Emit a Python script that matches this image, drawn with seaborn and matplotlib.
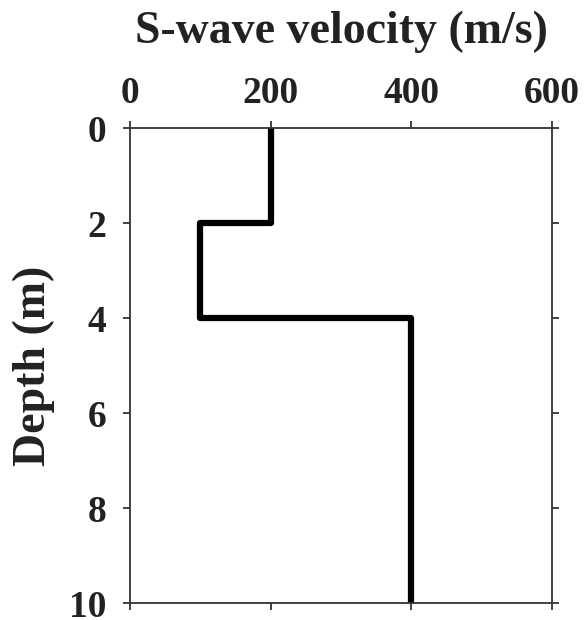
import matplotlib
matplotlib.use("Agg")
import matplotlib.pyplot as plt
import seaborn as sns
import pandas as pd

layer_top = [0, 2, 4]
layer_bottom = [2, 4, 10]
velocity = [200, 100, 400]
x_ticks = [0, 200, 400, 600]
y_ticks = [0, 2, 4, 6, 8, 10]

xs, ys = [], []
for t, b, v in zip(layer_top, layer_bottom, velocity):
    xs += [v, v]
    ys += [t, b]
df = pd.DataFrame({"Velocity": xs, "Depth": ys})

sns.set_theme(style="ticks")
plt.rcParams['font.family'] = ['Liberation Serif', 'DejaVu Serif']
plt.rcParams['font.weight'] = 'bold'

fig = plt.figure(figsize=(5.86, 6.2), dpi=100)
ax = fig.add_axes([0.222, 0.0274, 0.72, 0.766])
sns.lineplot(data=df, x="Velocity", y="Depth", sort=False, estimator=None,
             color="black", linewidth=4.5, ax=ax)
ax.set_xlim(0, 600)
ax.set_ylim(10, 0)
ax.set_xticks(x_ticks)
ax.set_yticks(y_ticks)
ax.xaxis.set_ticks_position('both')
ax.yaxis.set_ticks_position('both')
ax.xaxis.set_label_position('top')
ax.tick_params(axis='x', labeltop=True, labelbottom=False)
ax.tick_params(direction='out', length=5, width=1.3, color='#333333', labelsize=27)
ax.tick_params(axis='x', pad=7)
ax.tick_params(axis='y', pad=12)
for lab in ax.get_xticklabels() + ax.get_yticklabels():
    lab.set_fontweight('bold')
    lab.set_color('#222222')
for lab in ax.get_yticklabels():
    lab.set_verticalalignment('center_baseline')
for s in ax.spines.values():
    s.set_visible(True)
    s.set_color('#333333')
    s.set_linewidth(1.3)
ax.set_xlabel("S-wave velocity (m/s)", fontsize=33, fontweight='bold', labelpad=24, color='#222222')
ax.set_ylabel("Depth (m)", fontsize=33, fontweight='bold', labelpad=10, color='#222222')
fig.savefig("out.png", dpi=100)
